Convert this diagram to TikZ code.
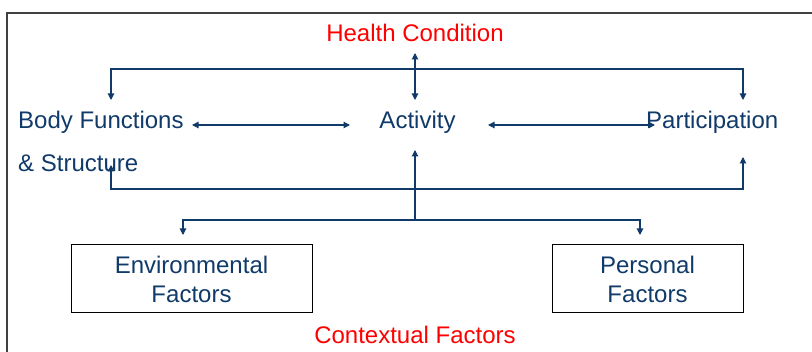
\documentclass[tikz,border=0pt]{standalone}
\usepackage{fontspec}
\setmainfont{Liberation Sans}
\usetikzlibrary{arrows.meta}
\definecolor{navy}{RGB}{16,58,105}
\definecolor{hred}{RGB}{255,0,0}
\begin{document}
\begin{tikzpicture}[x=1pt,y=-1pt,
  txt/.style={font=\fontsize{24}{29}\selectfont, inner sep=0pt},
  lbl/.style={txt, text=navy},
  redlbl/.style={txt, text=hred},
  tipshape/.tip={Triangle[length=6.5pt,width=6.5pt]},
  conn/.style={draw=navy, line width=1.1pt, -tipshape},
  both/.style={draw=navy, line width=1.1pt, tipshape-tipshape},
  plain/.style={draw=navy, line width=1.1pt},
  factbox/.style={txt, text=navy, draw=black, line width=1pt, minimum height=68pt, align=center}]
\useasboundingbox (0,0) rectangle (812,352);
\draw[line width=1.3pt, draw=black!75] (7,352) -- (7,13) -- (812,13);

% labels
\node[redlbl, anchor=base] (hc) at (415,42) {Health Condition};
\node[lbl, anchor=base west] (bf) at (18,129) {Body Functions};
\node[lbl, anchor=base west] (bs) at (18,172) {\& Structure};
\node[lbl, anchor=base] (act) at (417.5,129) {Activity};
\node[lbl, anchor=base west] (par) at (646,129) {Participation};
\node[factbox, minimum width=241pt] (env) at (191.5,279) {Environmental\\Factors};
\node[factbox, minimum width=191pt] (pers) at (647.5,279) {Personal\\Factors};
\node[redlbl, anchor=base] (ctx) at (415,344) {Contextual Factors};

% connector end points
\coordinate (hcA) at (415,53);
\coordinate (hcB) at (415,100);
\coordinate (topJ) at (415,69);
\coordinate (bfTop) at (111,100);
\coordinate (parTop) at (743,100);
\coordinate (bfR) at (192,125);
\coordinate (actL) at (350,125);
\coordinate (actR) at (488,125);
\coordinate (parL) at (655,125);
\coordinate (midJ) at (415,189);
\coordinate (bsBot) at (111,165);
\coordinate (parBot) at (743,157);
\coordinate (lowJ) at (415,220);
\coordinate (actBot) at (415,150);
\coordinate (envTop) at (183,235);
\coordinate (persTop) at (640,235);

\draw[both] (hcA) -- (hcB);
\draw[conn] (topJ) -| (bfTop);
\draw[conn] (topJ) -| (parTop);
\draw[both] (bfR) -- (actL);
\draw[both] (actR) -- (parL);
\draw[conn] (midJ) -| (bsBot);
\draw[conn] (midJ) -| (parBot);
\draw[conn] (lowJ) -- (actBot);
\draw[conn] (lowJ) -| (envTop);
\draw[conn] (lowJ) -| (persTop);
\end{tikzpicture}
\end{document}
